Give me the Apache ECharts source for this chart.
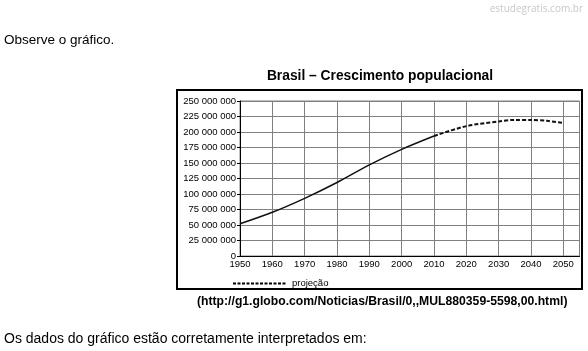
<!DOCTYPE html>
<html>
<head>
<meta charset="utf-8">
<script src="https://cdn.jsdelivr.net/npm/echarts@6/dist/echarts.min.js"></script>
<style>
  html, body { margin: 0; padding: 0; background: #fff; }
  #chart { width: 588px; height: 351px; }
</style>
</head>
<body>
<div id="chart"></div>
<script>
// population in millions
const years = [1950, 1960, 1970, 1980, 1990, 2000, 2010];
const population = [51.9, 70.5, 93, 118.5, 147, 172, 193.5];
const projYears = [2010, 2020, 2030, 2035, 2040, 2045, 2050];
const projPopulation = [193.5, 209.5, 217, 219.5, 219.5, 218, 214.5];
const xTicks = [1950, 1960, 1970, 1980, 1990, 2000, 2010, 2020, 2030, 2040, 2050];

const chart = echarts.init(document.getElementById('chart'));

const fmtPop = (v) => String(v).replace(/\B(?=(\d{3})+(?!\d))/g, ' ');
const toPairs = (xs, ys) => xs.map((x, i) => [x, ys[i] * 1e6]);

const font = '"Liberation Sans", Arial, sans-serif';

const option = {
  backgroundColor: '#fff',
  animation: false,
  textStyle: { fontFamily: font },
  title: {
    text: 'Brasil – Crescimento populacional',
    left: 375,
    textAlign: 'center',
    top: 64,
    textStyle: { fontSize: 13.8, fontWeight: 'bold', color: '#000', fontFamily: font }
  },
  grid: {
    left: 240,
    top: 101,
    width: 339.5,
    height: 155,
    show: true,
    borderColor: '#808080',
    borderWidth: 1
  },
  xAxis: {
    type: 'value',
    min: 1950,
    max: 2055,
    interval: 10,
    axisLine: { lineStyle: { color: '#000', width: 1 } },
    axisTick: { show: false },
    splitLine: { show: true, lineStyle: { color: '#808080', width: 1 } },
    axisLabel: {
      fontSize: 9.5,
      color: '#000',
      margin: 3,
      fontFamily: font,
      showMaxLabel: false,
      formatter: (v) => (xTicks.includes(v) ? String(v) : '')
    }
  },
  yAxis: {
    type: 'value',
    min: 0,
    max: 250e6,
    interval: 25e6,
    axisLine: { show: true, lineStyle: { color: '#000', width: 1 } },
    axisTick: { show: true, length: 3, lineStyle: { color: '#000' } },
    splitLine: { show: true, lineStyle: { color: '#808080', width: 1 } },
    axisLabel: { fontSize: 9.5, color: '#000', margin: 4, fontFamily: font, formatter: fmtPop }
  },
  series: [
    {
      name: 'população',
      type: 'line',
      data: toPairs(years, population),
      smooth: 0.3,
      symbol: 'none',
      lineStyle: { color: '#111', width: 1.5 }
    },
    {
      name: 'projeção',
      type: 'line',
      data: toPairs(projYears, projPopulation),
      smooth: 0.3,
      symbol: 'none',
      lineStyle: { color: '#111', width: 2, type: [4, 2] }
    }
  ],
  graphic: [
    {
      type: 'text', right: 5, top: 4,
      style: { text: 'estudegratis.com.br', fontSize: 10, fill: '#c8c8c8', fontFamily: '"Open Sans", sans-serif' }
    },
    {
      type: 'text', left: 4, top: 33,
      style: { text: 'Observe o gráfico.', fontSize: 13.5, fill: '#000', fontFamily: font }
    },
    {
      type: 'rect', shape: { x: 177, y: 90, width: 405, height: 199 },
      style: { fill: 'none', stroke: '#000', lineWidth: 2 }, z: 10
    },
    {
      type: 'line', shape: { x1: 233, y1: 283.5, x2: 287, y2: 283.5 },
      style: { stroke: '#000', lineWidth: 2, lineDash: [3, 1.5] }
    },
    {
      type: 'text', left: 292, top: 278,
      style: { text: 'projeção', fontSize: 9.5, fill: '#000', fontFamily: font }
    },
    {
      type: 'text', left: 197, top: 296,
      style: { text: '(http://g1.globo.com/Noticias/Brasil/0,,MUL880359-5598,00.html)', fontSize: 12.2, fontWeight: 'bold', fill: '#000', fontFamily: font }
    },
    {
      type: 'text', left: 4, top: 332,
      style: { text: 'Os dados do gráfico estão corretamente interpretados em:', fontSize: 14, fill: '#000', fontFamily: font }
    }
  ]
};

chart.setOption(option);
</script>
</body>
</html>
